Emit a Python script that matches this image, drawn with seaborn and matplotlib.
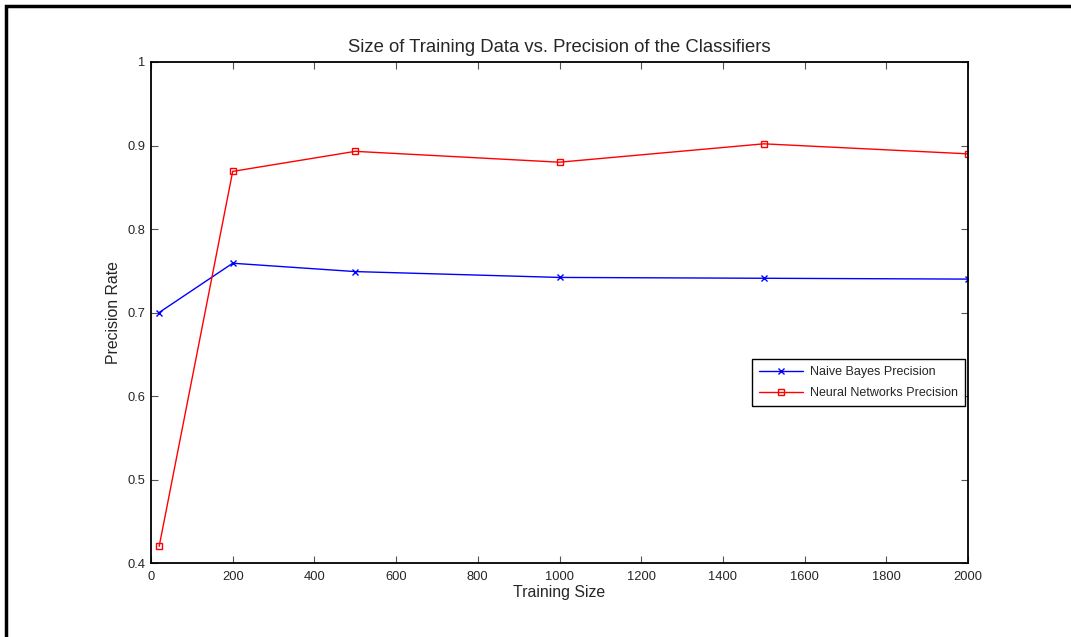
import numpy as np
import pandas as pd
import matplotlib.pyplot as plt
import seaborn as sns
from matplotlib.patches import Rectangle

# values
training_size = [20, 200, 500, 1000, 1500, 2000]
naive_bayes = [0.700, 0.759, 0.749, 0.742, 0.741, 0.740]
neural_net = [0.420, 0.869, 0.893, 0.880, 0.902, 0.890]
x_ticks = [0, 200, 400, 600, 800, 1000, 1200, 1400, 1600, 1800, 2000]
y_ticks = [0.4, 0.5, 0.6, 0.7, 0.8, 0.9, 1]

sns.set_style('white')
plt.rcParams['font.family'] = ['Liberation Sans', 'DejaVu Sans']

df = pd.DataFrame({'size': training_size, 'nb': naive_bayes, 'nn': neural_net})

fig = plt.figure(figsize=(10.71, 6.37), dpi=100)
ax = fig.add_axes([151/1071, 1 - 563/637, 817/1071, 501/637])

# frame around the figure (cut off at right and bottom like the original)
fig.patches.append(Rectangle((6/1071, -0.1), 1.2, 1 - 6/637 + 0.1, transform=fig.transFigure,
                             fill=False, edgecolor='black', linewidth=2.5))

sns.lineplot(data=df, x='size', y='nb', ax=ax, color='blue', marker='x', markersize=5,
             markeredgecolor='blue', markeredgewidth=1, linewidth=1,
             label='Naive Bayes Precision')
sns.lineplot(data=df, x='size', y='nn', ax=ax, color='red', marker='s', markersize=5,
             markerfacecolor='none', markeredgecolor='red', markeredgewidth=1, linewidth=1,
             label='Neural Networks Precision')

ax.set_xlim(0, 2000)
ax.set_ylim(0.4, 1)
ax.set_xticks(x_ticks)
ax.set_xticklabels([str(t) for t in x_ticks])
ax.set_yticks(y_ticks)
ax.set_yticklabels(['0.4', '0.5', '0.6', '0.7', '0.8', '0.9', '1'])
ax.tick_params(direction='in', length=5, width=0.8, color='#555555', labelsize=9.3,
               top=True, right=True, bottom=True, left=True)
ax.tick_params(axis='x', pad=6)
ax.tick_params(axis='y', pad=4)
for s in ax.spines.values():
    s.set_color('black')
    s.set_linewidth(1.3)

ax.set_xlabel('Training Size', fontsize=11.4, labelpad=1)
ax.set_ylabel('Precision Rate', fontsize=11.4, labelpad=5)
ax.set_title('Size of Training Data vs. Precision of the Classifiers', fontsize=13.3, pad=7)

leg = ax.legend(loc='upper left', bbox_to_anchor=((752-151)/817, (563-359)/501),
                fontsize=9, frameon=True, fancybox=False, framealpha=1,
                edgecolor='black', borderpad=0.55, handlelength=3.5, labelspacing=0.75,
                borderaxespad=0, handletextpad=0.6)
leg.get_frame().set_linewidth(1)

fig.savefig('out.png', dpi=100)
